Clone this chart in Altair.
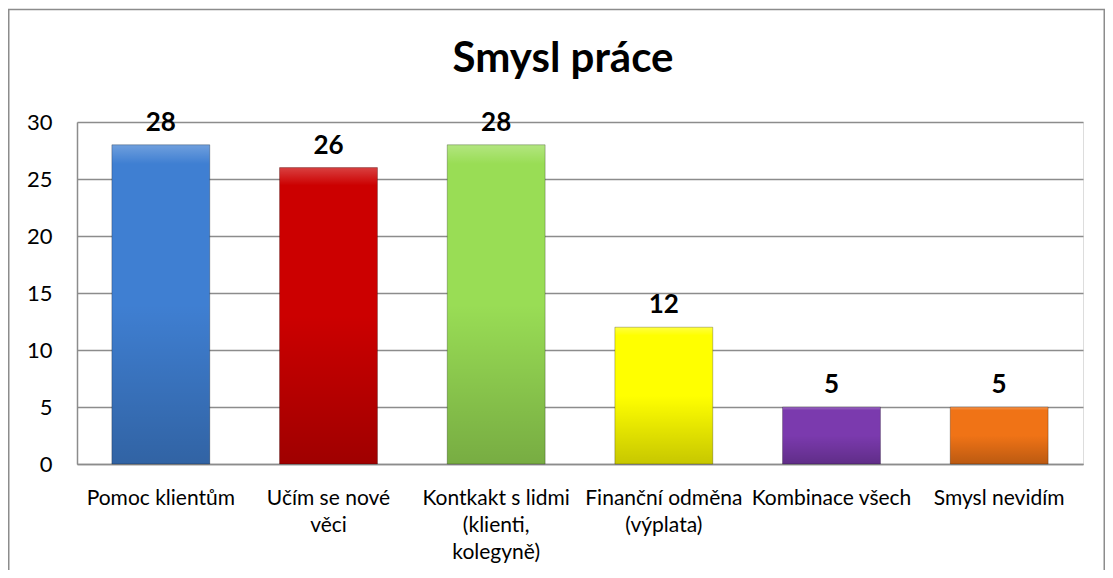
import altair as alt
import pandas as pd

categories = [
    "Pomoc klientům",
    "Učím se nové|věci",
    "Kontkakt s lidmi|(klienti,|kolegyně)",
    "Finanční odměna|(výplata)",
    "Kombinace všech",
    "Smysl nevidím",
]
values = [28, 26, 28, 12, 5, 5]
colors = ["#3f7fd2", "#cc0000", "#99dd55", "#ffff00", "#7b3aae", "#f07316"]
y_ticks = [0, 5, 10, 15, 20, 25, 30]

df = pd.DataFrame({"cat": categories, "val": values, "col": colors})

W, H = 1006, 342
PAD = {"left": 69, "top": 114, "right": 22, "bottom": 106}
FONT = "Lato"

x_enc = alt.X(
    "cat:N",
    sort=None,
    title=None,
    scale=alt.Scale(paddingInner=0.416, paddingOuter=0.208),
    axis=alt.Axis(
        labelAngle=0,
        labelExpr="split(datum.label, '|')",
        labelFontSize=21,
        labelFont=FONT,
        labelColor="black",
        labelPadding=23,
        labelLineHeight=27,
        labelOverlap=False,
        labelLimit=300,
        ticks=False,
        domainColor="#8c8c8c",
        domainWidth=1.5,
        grid=False,
    ),
)
y_enc = alt.Y(
    "val:Q",
    title=None,
    scale=alt.Scale(domain=[0, 30], nice=False),
    axis=alt.Axis(
        values=y_ticks,
        labelFontSize=22,
        labelFont=FONT,
        labelColor="black",
        labelPadding=25,
        ticks=False,
        domainColor="#8c8c8c",
        domainWidth=1.5,
        gridColor="#8c8c8c",
        gridWidth=1.5,
    ),
)

bars = alt.Chart(df).mark_bar().encode(
    x=x_enc,
    y=y_enc,
    color=alt.Color("col:N", scale=None, legend=None),
)

shade = alt.Chart(df).mark_bar(
    fill=alt.Gradient(
        gradient="linear",
        x1=0, x2=0, y1=0, y2=1,
        stops=[
            alt.GradientStop(color="rgba(255,255,255,0.25)", offset=0),
            alt.GradientStop(color="rgba(255,255,255,0.0)", offset=0.06),
            alt.GradientStop(color="rgba(0,0,0,0.0)", offset=0.5),
            alt.GradientStop(color="rgba(0,0,0,0.22)", offset=1),
        ],
    ),
    stroke="rgba(0,0,0,0.25)",
    strokeWidth=1,
).encode(x=alt.X("cat:N", sort=None), y=alt.Y("val:Q"))

labels = alt.Chart(df).mark_text(
    baseline="alphabetic",
    dy=-14,
    fontSize=26,
    font=FONT,
    fontWeight="bold",
    color="black",
).encode(
    x=alt.X("cat:N", sort=None),
    y=alt.Y("val:Q"),
    text=alt.Text("val:Q"),
)

frame = alt.Chart(pd.DataFrame({"f": [0]})).mark_rect(
    fillOpacity=0,
    stroke="#8c8c8c",
    strokeWidth=1.5,
).encode(
    x=alt.value(-PAD["left"] + 0.75),
    x2=alt.value(W + PAD["right"] - 0.75),
    y=alt.value(-PAD["top"] + 1.5),
    y2=alt.value(H + PAD["bottom"] + 20),
)

chart = (
    alt.layer(frame, bars, shade, labels)
    .properties(
        width=W,
        height=H,
        autosize=alt.AutoSizeParams(type="none"),
        padding=PAD,
        title=alt.TitleParams(
            text="Smysl práce",
            font=FONT,
            fontSize=42,
            fontWeight="bold",
            color="black",
            anchor="middle",
            dx=-17,
            offset=-72,
        ),
    )
    .configure_view(stroke=None)
    .configure(background="white")
)

chart.save("out.html", embed_options={"renderer": "svg", "actions": False})
